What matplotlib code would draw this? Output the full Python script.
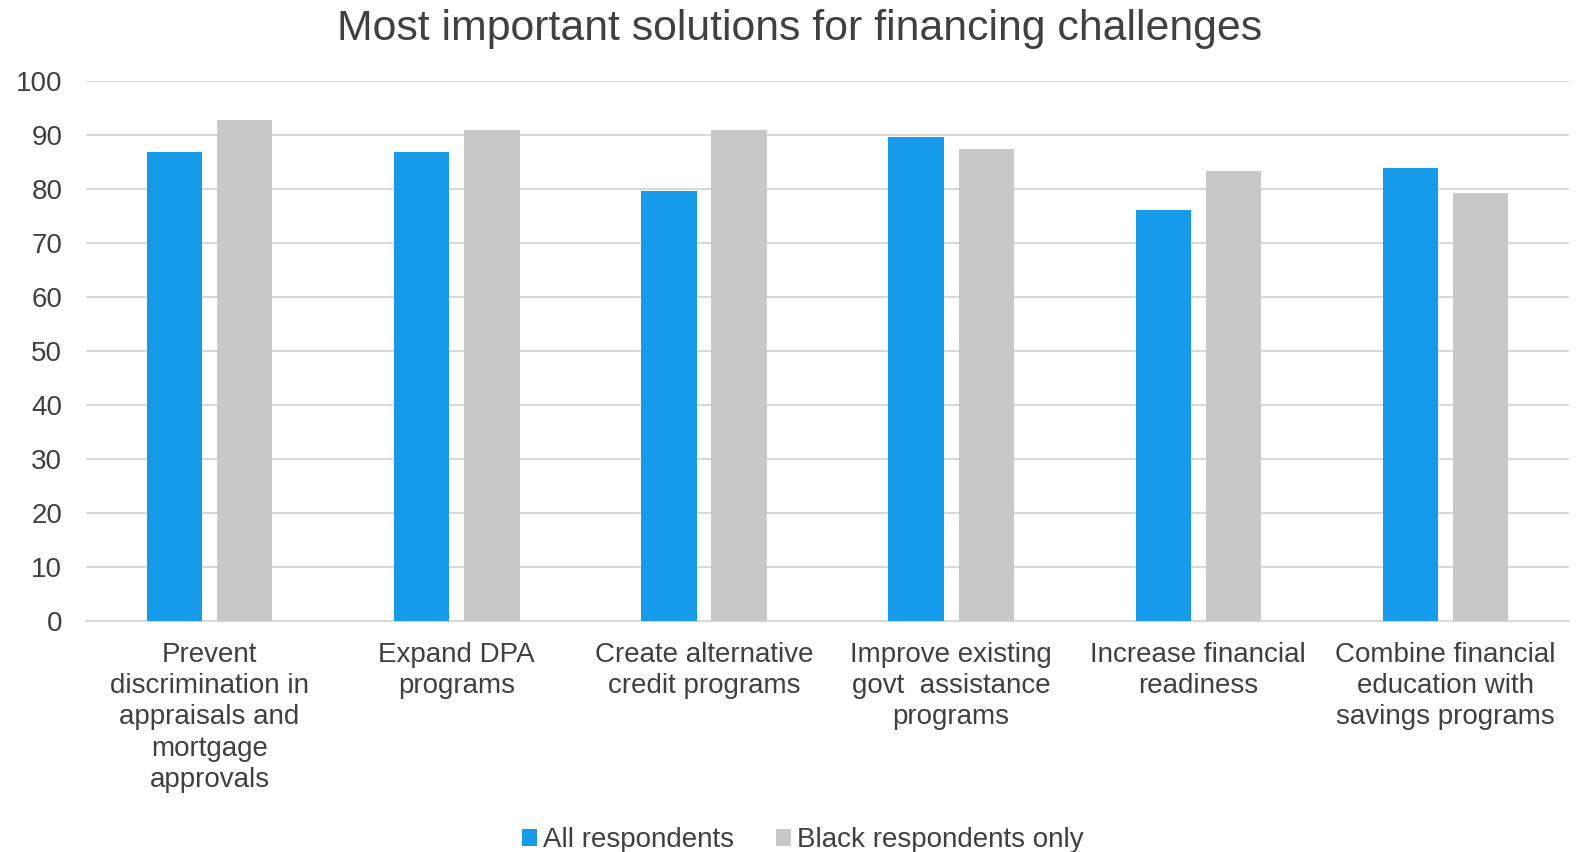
import numpy as np
import matplotlib
matplotlib.use('Agg')
import matplotlib.pyplot as plt

categories = ['Prevent\ndiscrimination in\nappraisals and\nmortgage\napprovals',
              'Expand DPA\nprograms',
              'Create alternative\ncredit programs',
              'Improve existing\ngovt  assistance\nprograms',
              'Increase financial\nreadiness',
              'Combine financial\neducation with\nsavings programs']
all_respondents = [86.8, 86.8, 79.6, 89.6, 76.1, 83.8]
black_only = [92.7, 90.8, 90.8, 87.4, 83.3, 79.2]
series_names = ['All respondents', 'Black respondents only']

blue = '#169BEA'
grey = '#C8C8C8'
text_col = '#404040'

plt.rcParams['font.family'] = ['Liberation Sans', 'DejaVu Sans']

fig = plt.figure(figsize=(15.77, 8.52), dpi=100, facecolor='w')
ax = fig.add_axes([0.0545, 0.2715, 0.9405, 0.6338])

x = np.arange(len(categories))
w = 0.224
off = 0.142
ax.bar(x - off, all_respondents, w, color=blue, label=series_names[0], zorder=3)
ax.bar(x + off, black_only, w, color=grey, label=series_names[1], zorder=3)

ax.set_xlim(-0.5, len(categories) - 0.5)
ax.set_ylim(0, 100)
ax.set_yticks(np.arange(0, 101, 10))
ax.yaxis.grid(True, color='#D9D9D9', linewidth=1.5, zorder=0)
ax.set_axisbelow(True)
for s in ['top', 'right', 'left']:
    ax.spines[s].set_visible(False)
ax.spines['bottom'].set_color('#D9D9D9')
ax.spines['bottom'].set_linewidth(1.5)

ax.set_xticks(x)
ax.set_xticklabels(categories, fontsize=20, color=text_col, linespacing=1.27)
ax.tick_params(axis='x', length=0, pad=15)
ax.tick_params(axis='y', length=0, labelsize=20, labelcolor=text_col, pad=17)

fig.suptitle('Most important solutions for financing challenges', fontsize=30.8,
             color=text_col, x=0.507, y=0.99, va='top')

fig.legend(loc='center', bbox_to_anchor=(0.509, 0.014), ncol=2, frameon=False,
           fontsize=20, labelcolor=text_col, handlelength=0.55, handleheight=0.55,
           handletextpad=0.2, columnspacing=1.5)

fig.savefig('out.png', dpi=100)
